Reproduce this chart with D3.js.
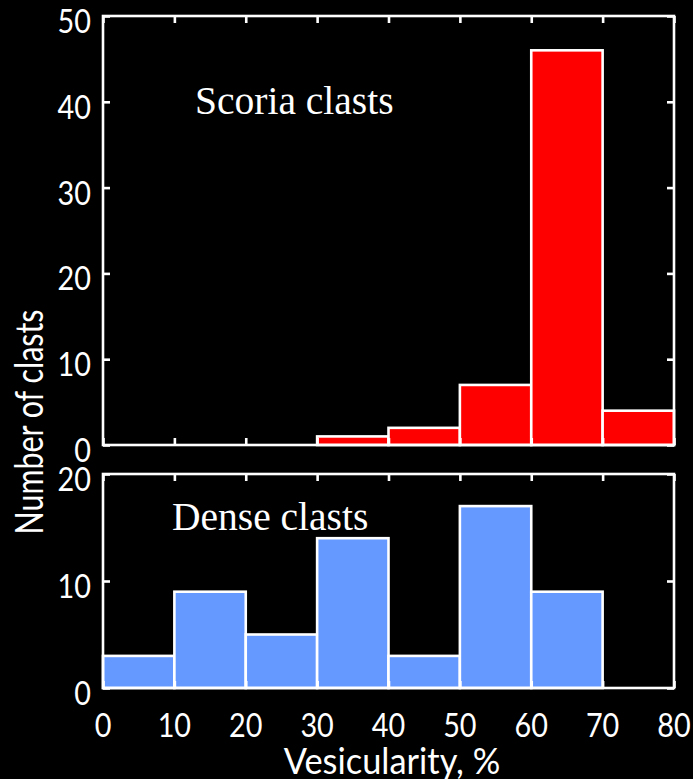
<!DOCTYPE html>
<html>
<head>
<meta charset="utf-8">
<script src="https://cdn.jsdelivr.net/npm/d3@7"></script>
<style>
  html, body { margin: 0; padding: 0; background: #000; }
  svg { display: block; }
</style>
</head>
<body>
<svg id="chart" width="693" height="779"></svg>
<script>
// Histogram bins (vesicularity %, lower edges) and counts per clast type
const binEdges = [0, 10, 20, 30, 40, 50, 60, 70, 80];
const scoriaCounts = [0, 0, 0, 1, 2, 7, 46, 4];
const denseCounts = [3, 9, 5, 14, 3, 17, 9, 0];
const xTicks = [0, 10, 20, 30, 40, 50, 60, 70, 80];
const scoriaTicks = [0, 10, 20, 30, 40, 50];
const denseTicks = [0, 10, 20];

const svg = d3.select("#chart");
const W = 693, H = 779;
svg.append("rect").attr("width", W).attr("height", H).attr("fill", "#000");

const sans = "Lato, 'Open Sans', 'DejaVu Sans', sans-serif";
const serif = "'Liberation Serif', 'DejaVu Serif', serif";

// condensed sans text placed at (px, py), squeezed horizontally by sx, optionally rotated
function sansText(parent, str, px, py, size, anchor, sx, rotate) {
  return parent.append("text")
    .attr("transform", `translate(${px},${py})` + (rotate ? ` rotate(${rotate})` : "") + ` scale(${sx},1)`)
    .attr("text-anchor", anchor)
    .attr("fill", "#fff")
    .style("font-family", sans).style("font-size", size + "px").style("font-weight", 400)
    .text(str);
}

const x = d3.scaleLinear().domain([0, 80]).range([103, 674]);

function panel(opts) {
  const y = d3.scaleLinear().domain(opts.domain).range([opts.bottom, opts.top]);
  const g = svg.append("g");
  const bins = opts.counts.map((c, i) => ({ x0: binEdges[i], x1: binEdges[i + 1], n: c }));

  // bars
  g.selectAll("rect.bar").data(bins.filter(d => d.n > 0)).join("rect")
    .attr("class", "bar")
    .attr("x", d => x(d.x0))
    .attr("width", d => x(d.x1) - x(d.x0))
    .attr("y", d => y(d.n))
    .attr("height", d => y(0) - y(d.n))
    .attr("fill", opts.color)
    .attr("stroke", "#fff")
    .attr("stroke-width", 2.6);

  // inward ticks on all four sides
  const tl = 7;
  const axStyle = sel => sel.call(s => s.select(".domain").remove())
    .call(s => s.selectAll("line").attr("stroke", "#fff").attr("stroke-width", 2.6))
    .call(s => s.selectAll("text").remove());

  g.append("g").attr("transform", `translate(0,${y(0)})`)
    .call(d3.axisTop(x).tickValues(xTicks).tickSize(tl)).call(axStyle);
  g.append("g").attr("transform", `translate(0,${y(opts.domain[1])})`)
    .call(d3.axisBottom(x).tickValues(xTicks).tickSize(tl)).call(axStyle);
  g.append("g").attr("transform", `translate(${x(0)},0)`)
    .call(d3.axisRight(y).tickValues(opts.ticks).tickSize(tl)).call(axStyle);
  g.append("g").attr("transform", `translate(${x(80)},0)`)
    .call(d3.axisLeft(y).tickValues(opts.ticks).tickSize(tl)).call(axStyle);

  // frame
  g.append("rect")
    .attr("x", x(0)).attr("y", y(opts.domain[1]))
    .attr("width", x(80) - x(0)).attr("height", y(0) - y(opts.domain[1]))
    .attr("fill", "none").attr("stroke", "#fff").attr("stroke-width", 2.6);

  // y tick labels
  opts.ticks.forEach(t => sansText(g, t, 91, y(t) + 17, 32, "end", 0.9));

  // panel title
  g.append("text")
    .attr("x", opts.labelX).attr("y", opts.labelY)
    .attr("fill", "#fff")
    .style("font-family", serif).style("font-size", "39.5px")
    .text(opts.label);
  return y;
}

panel({ counts: scoriaCounts, domain: [0, 50], ticks: scoriaTicks, top: 16, bottom: 445,
        color: "#ff0000", label: "Scoria clasts", labelX: 195, labelY: 114 });
panel({ counts: denseCounts, domain: [0, 20], ticks: denseTicks, top: 474, bottom: 688,
        color: "#6699ff", label: "Dense clasts", labelX: 172, labelY: 530 });

// x tick labels
xTicks.forEach(t => sansText(svg, t, x(t), 737, 32, "middle", 0.9));

// axis titles
sansText(svg, "Vesicularity, %", 392, 774, 37, "middle", 0.93);
sansText(svg, "Number of clasts", 43, 422, 38, "middle", 0.8, -90);
</script>
</body>
</html>
